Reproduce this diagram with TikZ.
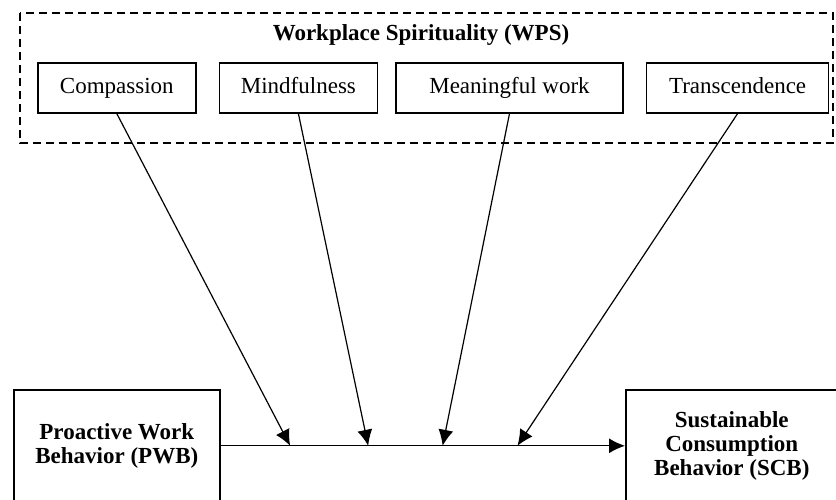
\documentclass[tikz,border=0pt]{standalone}
\usepackage{fontspec}
\setmainfont{Liberation Serif}
\usetikzlibrary{arrows.meta,positioning,calc}

\begin{document}
\begin{tikzpicture}[
        x=1pt, y=-1pt,
        dimension/.style={draw, line width=1.6pt, minimum height=50pt, inner sep=0pt, text height=16pt, text depth=5pt, font=\fontsize{23}{26}\selectfont},
        construct/.style={draw, line width=1.6pt, minimum height=112pt, inner sep=0pt, align=center, font=\fontsize{23}{24}\selectfont\bfseries},
        wpsbox/.style={line width=1.6pt, dash pattern=on 8pt off 5pt},
        arrow/.style={-{Latex[length=16pt,width=15pt]}, line width=1.2pt}
    ]
        \clip (0,0) rectangle (836,499);

        % Workplace spirituality group
        \draw[wpsbox] (20,13) rectangle (833,143);
        \node[font=\fontsize{23}{26}\selectfont\bfseries] (wps) at (421,35) {Workplace Spirituality (WPS)};

        % Dimension nodes
        \node[dimension, minimum width=158pt, anchor=north west] (comp) at (37,62) {Compassion};
        \node[dimension, minimum width=158pt, right=22pt of comp] (mind) {Mindfulness};
        \node[dimension, minimum width=227pt, right=17pt of mind] (mean) {Meaningful work};
        \node[dimension, minimum width=182pt, right=22pt of mean] (trans) {Transcendence};

        % Constructs
        \node[construct, minimum width=206pt, anchor=north west] (pwb) at (13,389) {Proactive Work\\Behavior (PWB)};
        \node[construct, minimum width=212pt, anchor=north west] (scb) at (625,389) {Sustainable\\Consumption\\Behavior (SCB)};

        % Main path
        \draw[arrow] (pwb.east) -- (scb.west);
        \path (pwb.east) -- (scb.west)
            coordinate[pos=0.172] (t1) coordinate[pos=0.365] (t2)
            coordinate[pos=0.549] (t3) coordinate[pos=0.734] (t4);

        % Moderating arrows
        \draw[arrow] (comp.south) -- (t1);
        \draw[arrow] (mind.south) -- (t2);
        \draw[arrow] (mean.south) -- (t3);
        \draw[arrow] (trans.south) -- (t4);
    \end{tikzpicture}
\end{document}
